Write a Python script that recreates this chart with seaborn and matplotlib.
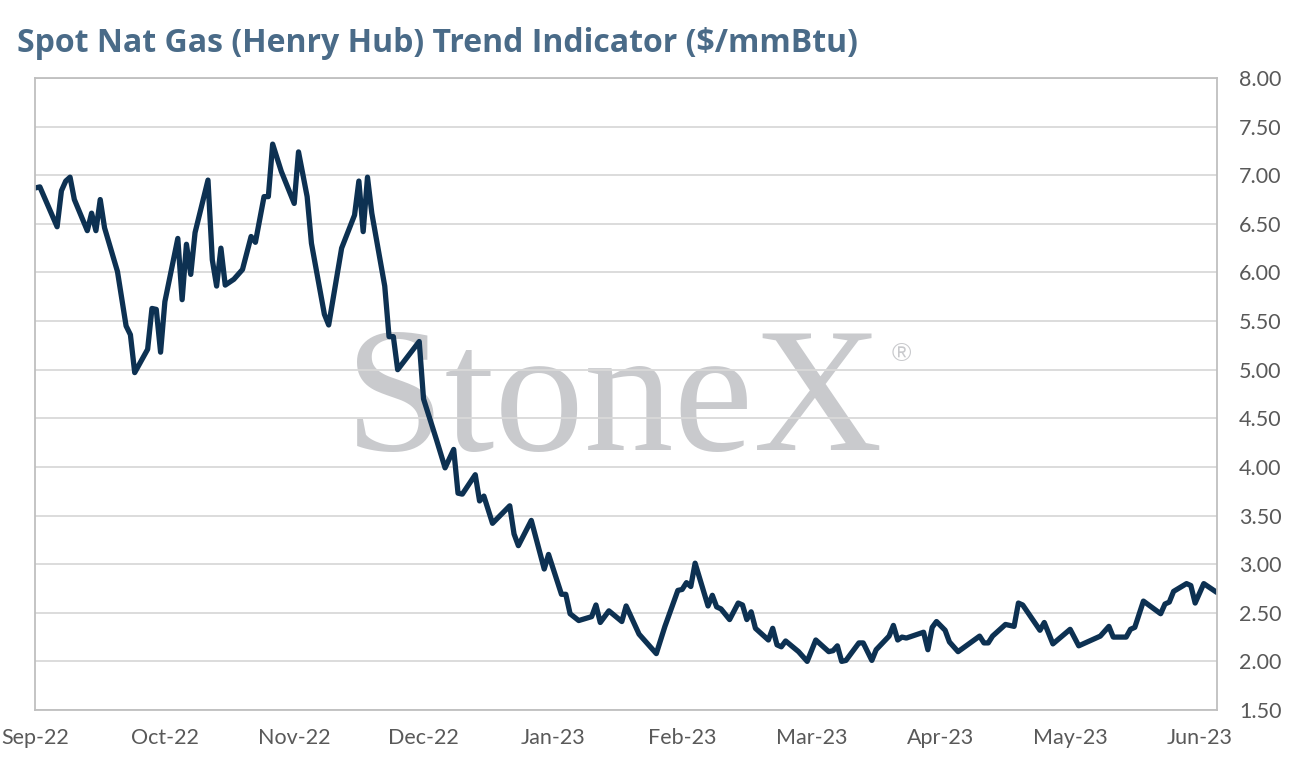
import matplotlib
matplotlib.use("Agg")
import matplotlib.pyplot as plt
import seaborn as sns
import pandas as pd

# ---- data ----
session = [0, 1, 5, 6, 7, 8, 9, 12, 13, 14, 15, 16, 19, 21, 22, 23, 26, 27, 28, 29,
           30, 33, 34, 35, 36, 37, 40, 41, 42, 43, 44, 46, 48, 50, 51, 53, 54, 55, 57, 60,
           61, 63, 64, 67, 68, 71, 74, 75, 76, 77, 78, 81, 82, 83, 84, 89, 90, 91, 93, 95,
           97, 98, 99, 102, 103, 104, 106, 110, 111, 112, 115, 118, 119, 122, 123, 124, 126, 129, 130, 131,
           133, 136, 137, 140, 144, 146, 149, 150, 151, 152, 153, 156, 157, 158, 159, 161, 163, 164, 165, 166,
           167, 170, 171, 172, 173, 174, 177, 179, 181, 184, 185, 186, 187, 188, 191, 192, 194, 195, 198, 199,
           200, 201, 202, 206, 207, 208, 209, 211, 212, 214, 219, 220, 221, 222, 225, 227, 228, 229, 233, 234,
           236, 240, 242, 247, 249, 250, 253, 254, 255, 257, 261, 262, 263, 264, 267, 268, 269, 271, 274]
price = [6.87, 6.88, 6.47, 6.84, 6.94, 6.98, 6.75, 6.43, 6.61, 6.43, 6.75, 6.46, 6.01, 5.45, 5.36, 4.97, 5.21, 5.63, 5.62, 5.18,
         5.70, 6.35, 5.72, 6.29, 5.98, 6.41, 6.95, 6.13, 5.86, 6.25, 5.87, 5.93, 6.03, 6.37, 6.31, 6.78, 6.78, 7.32, 7.04, 6.71,
         7.24, 6.78, 6.30, 5.57, 5.46, 6.25, 6.59, 6.94, 6.42, 6.98, 6.61, 5.86, 5.34, 5.34, 5.00, 5.29, 4.70, 4.56, 4.28, 3.99,
         4.18, 3.73, 3.72, 3.92, 3.65, 3.70, 3.42, 3.60, 3.31, 3.19, 3.45, 2.95, 3.10, 2.69, 2.69, 2.49, 2.42, 2.46, 2.58, 2.40,
         2.52, 2.41, 2.57, 2.28, 2.08, 2.36, 2.73, 2.74, 2.81, 2.77, 3.01, 2.57, 2.68, 2.56, 2.54, 2.43, 2.60, 2.58, 2.43, 2.51,
         2.34, 2.22, 2.34, 2.17, 2.15, 2.21, 2.10, 2.00, 2.22, 2.10, 2.11, 2.16, 2.00, 2.01, 2.19, 2.19, 2.01, 2.12, 2.26, 2.37,
         2.22, 2.25, 2.24, 2.30, 2.12, 2.35, 2.41, 2.32, 2.20, 2.10, 2.26, 2.19, 2.19, 2.26, 2.38, 2.36, 2.60, 2.58, 2.32, 2.40,
         2.18, 2.33, 2.16, 2.26, 2.36, 2.25, 2.25, 2.33, 2.35, 2.62, 2.49, 2.59, 2.61, 2.72, 2.80, 2.78, 2.60, 2.80, 2.71]
tick_sessions = [0, 30, 60, 90, 120, 150, 180, 210, 240, 270]
tick_labels = ["Sep-22", "Oct-22", "Nov-22", "Dec-22", "Jan-23", "Feb-23",
               "Mar-23", "Apr-23", "May-23", "Jun-23"]
y_ticks = [1.5, 2.0, 2.5, 3.0, 3.5, 4.0, 4.5, 5.0, 5.5, 6.0, 6.5, 7.0, 7.5, 8.0]
title = "Spot Nat Gas (Henry Hub) Trend Indicator ($/mmBtu)"

df = pd.DataFrame({"session": session, "price": price})

# ---- style ----
sns.set_theme(style="white")
plt.rcParams["font.family"] = ["Lato", "DejaVu Sans"]

W, H = 1294, 771
fig = plt.figure(figsize=(W / 100, H / 100), dpi=100)
ax = fig.add_axes([34.7 / W, 1 - 710 / H, (1216.7 - 34.7) / W, (710 - 78) / H])

line_color = "#0d3152"
sns.lineplot(data=df, x="session", y="price", color=line_color, linewidth=3.8, ax=ax)
for ln in ax.get_lines():
    ln.set_solid_joinstyle("round")
    ln.set_solid_capstyle("round")

ax.set_xlim(-0.2, 274)
ax.set_ylim(1.5, 8.0)
ax.set_xticks(tick_sessions)
ax.set_xticklabels(tick_labels)
ax.set_yticks(y_ticks)
ax.set_yticklabels([f"{v:.2f}" for v in y_ticks])
ax.yaxis.tick_right()
ax.tick_params(axis="both", length=0, labelsize=15.5, colors="#595959")
ax.tick_params(axis="y", pad=16)
ax.tick_params(axis="x", pad=13)
ax.set_xlabel("")
ax.set_ylabel("")

ax.set_axisbelow(True)
ax.yaxis.grid(True, color="#d9d9d9", linewidth=1.3)
ax.xaxis.grid(False)
for sp in ax.spines.values():
    sp.set_visible(True)
    sp.set_color("#bfbfbf")
    sp.set_linewidth(1.3)

# watermark
wm_color = "#c9cacd"
ax.text(614 / W, 1 - 450 / H, "StoneX", transform=fig.transFigure,
        ha="center", va="baseline", fontsize=129, color=wm_color,
        family=["Liberation Serif", "DejaVu Serif"], zorder=0.1)
ax.text(901 / W, 1 - 354 / H, "®", transform=fig.transFigure,
        ha="center", va="center", fontsize=19, color=wm_color,
        family=["Liberation Sans", "DejaVu Sans"], zorder=0.1)

fig.text(17 / W, 1 - 43 / H, title, ha="left", va="center",
         fontsize=23, fontweight="bold", color="#4a6b88",
         family=["Open Sans", "DejaVu Sans"])

fig.savefig("out.png", dpi=100, facecolor="white")
